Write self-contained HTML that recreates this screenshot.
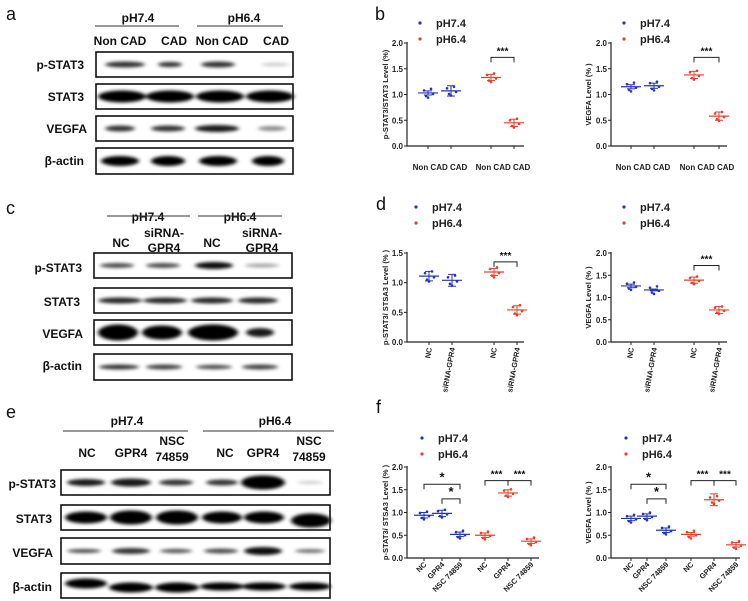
<!DOCTYPE html>
<html><head><meta charset="utf-8"><style>
html,body{margin:0;padding:0;background:#fff;}
svg{display:block;font-family:"Liberation Sans",Arial,sans-serif;}
</style></head><body>
<svg id="s" width="748" height="601" viewBox="0 0 748 601" xmlns="http://www.w3.org/2000/svg">
<defs>
<filter id="bl" x="-30%" y="-100%" width="160%" height="300%"><feGaussianBlur stdDeviation="2.2 1.6"/></filter>
</defs>
<g font-weight="bold" fill="#111">
<text x="6" y="20" font-size="18" font-weight="normal">a</text>
<text x="375" y="20" font-size="18" font-weight="normal">b</text>
<text x="6" y="214" font-size="18" font-weight="normal">c</text>
<text x="376" y="210" font-size="18" font-weight="normal">d</text>
<text x="6" y="418" font-size="18" font-weight="normal">e</text>
<text x="376" y="413" font-size="18" font-weight="normal">f</text>

<text x="138" y="22" font-size="12" text-anchor="middle">pH7.4</text>
<text x="244" y="22" font-size="12" text-anchor="middle">pH6.4</text>
<text x="120" y="45" font-size="12" text-anchor="middle">Non CAD</text>
<text x="174" y="45" font-size="12" text-anchor="middle">CAD</text>
<text x="222" y="45" font-size="12" text-anchor="middle">Non CAD</text>
<text x="276" y="45" font-size="12" text-anchor="middle">CAD</text>
<g font-size="12" text-anchor="end">
<text x="84" y="69">p-STAT3</text><text x="84" y="101">STAT3</text>
<text x="87" y="133">VEGFA</text><text x="84" y="165">β-actin</text>
</g>

<text x="148" y="221" font-size="12" text-anchor="middle">pH7.4</text>
<text x="240" y="221" font-size="12" text-anchor="middle">pH6.4</text>
<text x="121" y="247" font-size="12" text-anchor="middle">NC</text>
<text x="164" y="237" font-size="12" text-anchor="middle">siRNA-</text>
<text x="164" y="252" font-size="12" text-anchor="middle">GPR4</text>
<text x="212" y="247" font-size="12" text-anchor="middle">NC</text>
<text x="262" y="237" font-size="12" text-anchor="middle">siRNA-</text>
<text x="262" y="252" font-size="12" text-anchor="middle">GPR4</text>
<g font-size="12" text-anchor="end">
<text x="82" y="272">p-STAT3</text><text x="80" y="306">STAT3</text>
<text x="83" y="338">VEGFA</text><text x="82" y="370">β-actin</text>
</g>

<text x="127" y="425" font-size="12" text-anchor="middle">pH7.4</text>
<text x="275" y="425" font-size="12" text-anchor="middle">pH6.4</text>
<text x="87" y="457" font-size="12" text-anchor="middle">NC</text>
<text x="131" y="457" font-size="12" text-anchor="middle">GPR4</text>
<text x="172" y="445" font-size="12" text-anchor="middle">NSC</text>
<text x="172" y="461" font-size="12" text-anchor="middle">74859</text>
<text x="225" y="457" font-size="12" text-anchor="middle">NC</text>
<text x="263" y="457" font-size="12" text-anchor="middle">GPR4</text>
<text x="309" y="445" font-size="12" text-anchor="middle">NSC</text>
<text x="309" y="461" font-size="12" text-anchor="middle">74859</text>
<g font-size="12" text-anchor="end">
<text x="56" y="488">p-STAT3</text><text x="52" y="523">STAT3</text>
<text x="53" y="557">VEGFA</text><text x="52" y="591">β-actin</text>
</g>
</g>
<g stroke="#333" stroke-width="1">
<line x1="95" y1="26" x2="179" y2="26"/><line x1="197" y1="26" x2="283" y2="26"/>
<line x1="107" y1="216" x2="190" y2="216"/><line x1="198" y1="216" x2="282" y2="216"/>
<line x1="63" y1="431" x2="188" y2="431"/><line x1="203" y1="431" x2="334" y2="431"/>
</g>
<g id="bands"></g>
<g id="plots"></g>
</svg>
<script>
var NS="http://www.w3.org/2000/svg";
function el(p,t,a,txt){var e=document.createElementNS(NS,t);for(var k in a)e.setAttribute(k,a[k]);if(txt!=null)e.textContent=txt;p.appendChild(e);return e;}
var B=document.getElementById('bands'),P=document.getElementById('plots');
function blot(x1,x2,y1,y2,lanes){
  var g=el(B,'g',{});
  el(g,'rect',{x:x1,y:y1,width:x2-x1,height:y2-y1,fill:'#fff'});
  var gg=el(g,'g',{filter:'url(#bl)'});
  lanes.forEach(function(l){el(gg,'ellipse',{cx:l[0],cy:(y1+y2)/2+(l[4]||0),rx:l[1],ry:l[2],fill:'#000','fill-opacity':l[3]});});
  el(g,'rect',{x:x1,y:y1,width:x2-x1,height:y2-y1,fill:'none',stroke:'#111','stroke-width':1.6});
}
blot(96,293,52,77,[[125,20,3,0.8],[170,12,2.6,0.8],[218,17,3,0.8],[275,14,1.8,0.2]]);
blot(96,293,84,109,[[122,24,6,1],[170,24,6,1],[220,24,6,1],[270,24,6,1]]);
blot(96,293,116,141,[[120,15,3,0.8],[168,17,3,0.8],[217,22,3.5,0.9],[272,14,2.5,0.45]]);
blot(96,293,148,174,[[120,19,5,1],[168,17,5,1],[218,19,5,1],[268,16,5,1]]);
blot(94,292,253,278,[[117,17,2.5,0.7],[163,17,2.5,0.7],[214,19,3.5,0.95],[262,17,2,0.35]]);
blot(94,292,288,313,[[120,22,3,0.85],[165,22,3,0.85],[212,21,3,0.85],[258,20,3,0.85]]);
blot(94,292,320,345,[[118,20,8,1],[162,20,7,1],[213,25,8,1],[260,14,4.5,0.9]]);
blot(94,292,354,380,[[119,20,2.5,0.8],[164,18,2.5,0.75],[214,18,2.2,0.7],[260,18,2.5,0.75]]);
blot(61,330,470,495,[[86,19,3.5,0.9],[131,20,4,0.9],[176,17,3,0.8],[222,16,3,0.8],[263,22,7,1],[310,13,1.5,0.2]]);
blot(61,330,505,530,[[86,21,6,1],[131,21,7,1],[177,21,7,1],[222,20,6,1],[264,20,6,1],[311,20,7,1,3]]);
blot(61,330,538,564,[[84,17,2,0.7],[131,19,3,0.8],[176,16,2.2,0.65],[221,17,2.5,0.7],[263,19,4,0.95],[310,15,2,0.55]]);
blot(61,330,573,598,[[86,21,5,1,-2],[131,22,5,1,2],[177,22,5,1,2],[222,22,4,1,1],[264,22,4,1,1],[310,21,4,1,1]]);

var BLUE='#2436b5',RED='#e8412c';
function legend(x,y){
  el(P,'circle',{cx:x,cy:y,r:1.6,fill:BLUE});
  el(P,'circle',{cx:x,cy:y+16,r:1.6,fill:RED});
  el(P,'text',{x:x+16,y:y+4,'font-size':11,'font-weight':'bold',fill:'#222'},'pH7.4');
  el(P,'text',{x:x+16,y:y+20,'font-size':11,'font-weight':'bold',fill:'#222'},'pH6.4');
}
function plot(o){
  var ax=o.ax,yb=o.yb,yt=o.yt,vm=o.vm;
  function Y(v){return yb-(yb-yt)*v/vm;}
  el(P,'line',{x1:ax,y1:yt-1,x2:ax,y2:yb,stroke:'#222','stroke-width':1.2});
  el(P,'line',{x1:ax,y1:yb,x2:o.xe,y2:yb,stroke:'#222','stroke-width':1.2});
  for(var v=0;v<=vm+1e-6;v+=0.5){
    el(P,'line',{x1:ax-3,y1:Y(v),x2:ax,y2:Y(v),stroke:'#222'});
    el(P,'text',{x:ax-4,y:Y(v)+3,'font-size':8,'text-anchor':'end','font-weight':'bold',fill:'#222'},v.toFixed(1));
  }
  o.g.forEach(function(g){
    el(P,'line',{x1:g.x,y1:yb,x2:g.x,y2:yb+3,stroke:'#222'});
    var c=g.c?BLUE:RED,y=Y(g.v),s=g.sd||0.06;
    el(P,'line',{x1:g.x-10,y1:y,x2:g.x+10,y2:y,stroke:c,'stroke-width':1.2});
    el(P,'line',{x1:g.x,y1:Y(g.v+s),x2:g.x,y2:Y(g.v-s),stroke:c});
    el(P,'line',{x1:g.x-4,y1:Y(g.v+s),x2:g.x+4,y2:Y(g.v+s),stroke:c});
    el(P,'line',{x1:g.x-4,y1:Y(g.v-s),x2:g.x+4,y2:Y(g.v-s),stroke:c});
    [[-4,0.05],[3,0.08],[-2,-0.06],[5,-0.02],[0,-0.09]].forEach(function(d){
      el(P,'circle',{cx:g.x+d[0],cy:Y(g.v+d[1]),r:1.3,fill:c});});
  });
  (o.br||[]).forEach(function(b){
    var y=Y(b[2]);
    el(P,'polyline',{points:b[0]+','+(y+5)+' '+b[0]+','+y+' '+b[1]+','+y+' '+b[1]+','+(y+5),fill:'none',stroke:'#222'});
    el(P,'text',{x:(b[0]+b[1])/2,y:y-3,'font-size':b[3].length>1?10:13,'font-weight':'bold','text-anchor':'middle',fill:'#111'},b[3]);
  });
  el(P,'text',{transform:'translate('+(o.lx)+','+((yb+yt)/2)+') rotate(-90)','font-size':7.5,'font-weight':'bold','text-anchor':'middle',fill:'#222'},o.yl);
}
function xl(x,y,t,rot){
  if(rot) el(P,'text',{transform:'translate('+x+','+y+') rotate(-'+rot+')','font-size':7.5,'font-weight':'bold','text-anchor':'end',fill:'#222'},t);
  else el(P,'text',{x:x,y:y,'font-size':8,'font-weight':'bold','text-anchor':'middle',fill:'#222'},t);
}
var RA=611, RL=591;
// b
legend(420,23); legend(624,23);
plot({ax:407,yb:146,yt:43,vm:2,xe:524,lx:388,yl:'p-STAT3/STAT3 Level (%)',
 g:[{x:428,v:1.03,c:1,sd:.04},{x:451,v:1.07,c:1,sd:.1},{x:491,v:1.33,c:0,sd:.06},{x:514,v:0.45,c:0,sd:.07}],
 br:[[491,514,1.72,'***']]});
plot({ax:RA,yb:146,yt:43,vm:2,xe:727,lx:RL,yl:'VEGFA Level (% )',
 g:[{x:631,v:1.15,c:1,sd:.04},{x:654,v:1.17,c:1,sd:.05},{x:694,v:1.38,c:0,sd:.07},{x:719,v:0.58,c:0,sd:.08}],
 br:[[694,719,1.72,'***']]});
xl(440,170,'Non CAD CAD');xl(503,170,'Non CAD CAD');xl(643,170,'Non CAD CAD');xl(707,170,'Non CAD CAD');
// d
legend(416,207); legend(624,207);
plot({ax:407,yb:342,yt:253,vm:1.5,xe:524,lx:388,yl:'p-STAT3/ STSA3 Level (% )',
 g:[{x:429,v:1.11,c:1,sd:.08},{x:452,v:1.04,c:1,sd:.1},{x:494,v:1.18,c:0,sd:.06},{x:517,v:0.54,c:0,sd:.07}],
 br:[[494,517,1.35,'***']]});
plot({ax:RA,yb:342,yt:253,vm:2,xe:727,lx:RL,yl:'VEGFA Level (% )',
 g:[{x:631,v:1.26,c:1,sd:.04},{x:654,v:1.17,c:1,sd:.02},{x:694,v:1.39,c:0,sd:.07},{x:719,v:0.72,c:0,sd:.08}],
 br:[[694,719,1.72,'***']]});
[[429,'NC'],[452,'siRNA-GPR4'],[494,'NC'],[517,'siRNA-GPR4'],[631,'NC'],[654,'siRNA-GPR4'],[694,'NC'],[719,'siRNA-GPR4']].forEach(function(a){xl(a[0]+3,348,a[1],80);});
// f
legend(422,438); legend(626,438);
plot({ax:407,yb:558,yt:467,vm:2,xe:539,lx:388,yl:'p-STAT3/ STSA3 Level (% )',
 g:[{x:424,v:.94,c:1,sd:.06},{x:442,v:.98,c:1,sd:.07},{x:460,v:.52,c:1,sd:.05},{x:485,v:.50,c:0,sd:.05},{x:508,v:1.43,c:0,sd:.07},{x:531,v:.37,c:0,sd:.05}],
 br:[[424,460,1.62,'*'],[442,460,1.3,'*'],[485,508,1.7,'***'],[508,531,1.7,'***']]});
plot({ax:RA,yb:558,yt:467,vm:2,xe:740,lx:RL,yl:'VEGFA Level (% )',
 g:[{x:631,v:.87,c:1,sd:.05},{x:647,v:.92,c:1,sd:.05},{x:666,v:.61,c:1,sd:.05},{x:691,v:.52,c:0,sd:.04},{x:714,v:1.28,c:0,sd:.13},{x:736,v:.29,c:0,sd:.05}],
 br:[[631,666,1.62,'*'],[647,666,1.3,'*'],[691,714,1.7,'***'],[714,736,1.7,'***']]});
[[424,'NC'],[442,'GPR4'],[460,'NSC 74859'],[485,'NC'],[508,'GPR4'],[531,'NSC 74859'],[631,'NC'],[647,'GPR4'],[666,'NSC 74859'],[691,'NC'],[714,'GPR4'],[736,'NSC 74859']].forEach(function(a){xl(a[0]+3,565,a[1],45);});
</script>
</body></html>
